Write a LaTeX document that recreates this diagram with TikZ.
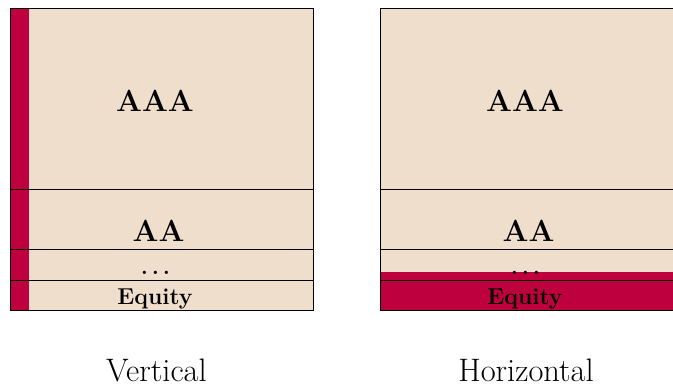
\documentclass[tikz,border=0pt]{standalone}
\begin{document}
\begin{tikzpicture}[x=1pt,y=-1pt,
  beige/.style={fill={rgb,255:red,239;green,222;blue,204}},
  redfill/.style={fill={rgb,255:red,190;green,0;blue,62}},
  rule/.style={draw=black,line width=0.8pt},
  big/.style={font=\fontsize{30.5}{36}\selectfont\bfseries,inner sep=0pt,anchor=base},
  small/.style={font=\fontsize{23}{27}\selectfont\bfseries,inner sep=0pt,anchor=base},
  captext/.style={font=\fontsize{32.5}{38}\selectfont,inner sep=0pt,anchor=base}]
\useasboundingbox (0,0) rectangle (673,387);
\clip (0,0) rectangle (673,387);
% left box
\fill[beige] (10.5,8) rectangle (313.5,310);
\fill[redfill] (10.5,8) rectangle (29,310);
\draw[rule] (10.5,189) -- (313.5,189);
\draw[rule] (10.5,249) -- (313.5,249);
\draw[rule] (10.5,280) -- (313.5,280);
\draw[rule] (10.5,8) rectangle (313.5,310);
\node[big] (l1) at (155,112) {AAA};
\node[big] (l2) at (158.5,242) {AA};
\node[small] (l3) at (155.5,275) {.\kern0.17em.\kern0.17em.};
\node[small] (l4) at (155,305) {Equity};
\node[captext] (lc) at (156.5,382) {Vertical};
% right box
\fill[beige] (380.5,8) rectangle (683.5,310);
\fill[redfill] (380.5,272) rectangle (683.5,310);
\draw[rule] (380.5,189) -- (683.5,189);
\draw[rule] (380.5,249) -- (683.5,249);
\draw[rule] (380.5,280) -- (683.5,280);
\draw[rule] (380.5,8) rectangle (683.5,310);
\node[big] (r1) at (525,112) {AAA};
\node[big] (r2) at (528.5,242) {AA};
\node[small] (r3) at (525.5,275) {.\kern0.17em.\kern0.17em.};
\node[small] (r4) at (525,305) {Equity};
\node[captext] (rc) at (526,382) {Horizontal};
\end{tikzpicture}
\end{document}
